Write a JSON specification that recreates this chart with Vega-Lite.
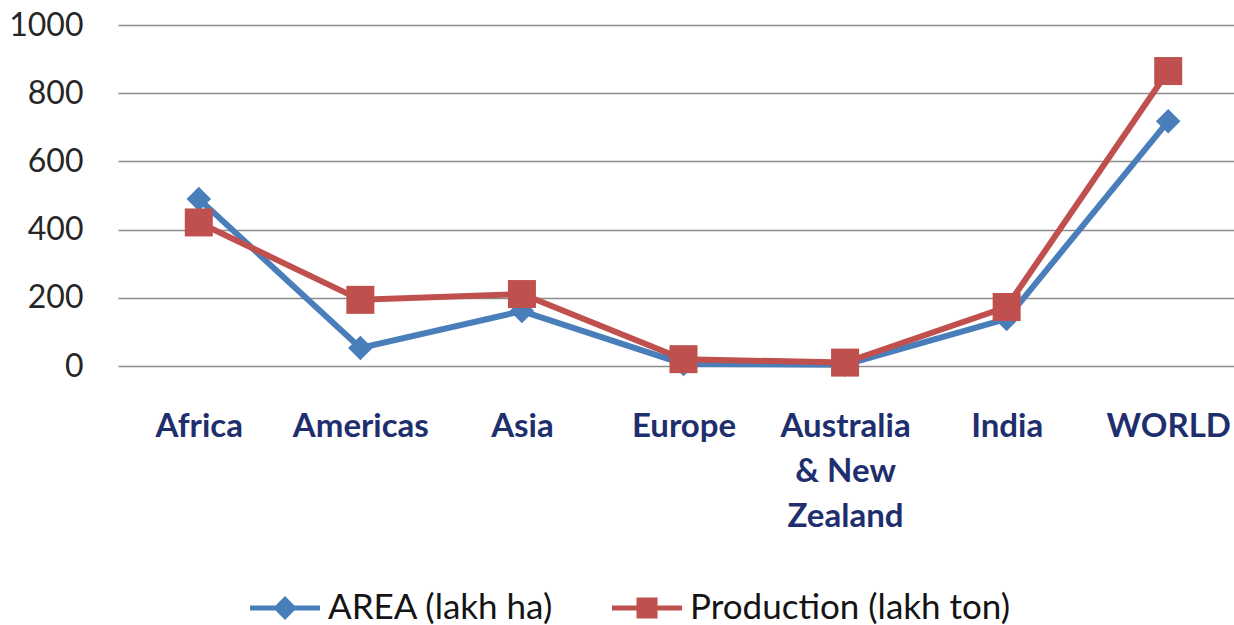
{
  "$schema": "https://vega.github.io/schema/vega-lite/v6.json",
  "width": 1131,
  "height": 341,
  "autosize": {"type": "none"},
  "padding": {"left": 118, "top": 25, "right": 0, "bottom": 259},
  "background": "white",
  "config": {
    "font": "Lato",
    "view": {"stroke": null}
  },
  "data": {
    "values": [
      {"region": "Africa", "series": "AREA (lakh ha)", "value": 490},
      {"region": "Americas", "series": "AREA (lakh ha)", "value": 53},
      {"region": "Asia", "series": "AREA (lakh ha)", "value": 161},
      {"region": "Europe", "series": "AREA (lakh ha)", "value": 6},
      {"region": "Australia & New Zealand", "series": "AREA (lakh ha)", "value": 4},
      {"region": "India", "series": "AREA (lakh ha)", "value": 138},
      {"region": "WORLD", "series": "AREA (lakh ha)", "value": 718},
      {"region": "Africa", "series": "Production (lakh ton)", "value": 421},
      {"region": "Americas", "series": "Production (lakh ton)", "value": 194},
      {"region": "Asia", "series": "Production (lakh ton)", "value": 211},
      {"region": "Europe", "series": "Production (lakh ton)", "value": 20},
      {"region": "Australia & New Zealand", "series": "Production (lakh ton)", "value": 10},
      {"region": "India", "series": "Production (lakh ton)", "value": 173},
      {"region": "WORLD", "series": "Production (lakh ton)", "value": 865}
    ]
  },
  "encoding": {
    "x": {
      "field": "region",
      "type": "nominal",
      "sort": null,
      "scale": {"type": "point", "padding": 0.5},
      "axis": {
        "title": null,
        "labelAngle": 0,
        "domain": false,
        "ticks": false,
        "labelFont": "Lato",
        "labelFontSize": 33,
        "labelFontWeight": "bold",
        "labelColor": "#1f2f6e",
        "labelPadding": 44,
        "labelBaseline": "top",
        "labelLineHeight": 45,
        "labelExpr": "datum.value == 'Australia & New Zealand' ? ['Australia', '& New', 'Zealand'] : datum.value"
      }
    },
    "y": {
      "field": "value",
      "type": "quantitative",
      "scale": {"domain": [0, 1000], "nice": false},
      "axis": {
        "title": null,
        "values": [0, 200, 400, 600, 800, 1000],
        "format": "d",
        "domain": false,
        "ticks": false,
        "grid": true,
        "gridColor": "#8c8c8c",
        "gridWidth": 1.5,
        "labelFont": "Lato",
        "labelFontSize": 32,
        "labelColor": "#262626",
        "labelPadding": 35
      }
    },
    "color": {
      "field": "series",
      "type": "nominal",
      "scale": {"domain": ["AREA (lakh ha)", "Production (lakh ton)"], "range": ["#4a7ebb", "#c0504d"]},
      "legend": {
        "title": null,
        "orient": "none",
        "direction": "horizontal",
        "legendX": 132,
        "legendY": 548,
        "symbolSize": 4900,
        "symbolStrokeWidth": 0,
        "symbolOpacity": 1,
        "labelFont": "Lato",
        "labelFontSize": 35,
        "labelColor": "#141414",
        "labelOffset": 8,
        "labelLimit": 0,
        "columnPadding": 58,
        "encode": {
          "symbols": {
            "update": {
              "shape": {"signal": "datum.value == 'AREA (lakh ha)' ? 'M-1,-0.07H1V0.07H-1Z M0,-0.34L0.34,0L0,0.34L-0.34,0Z' : 'M-1,-0.07H1V0.07H-1Z M-0.3,-0.3H0.3V0.3H-0.3Z'"},
              "fill": {"signal": "datum.value == 'AREA (lakh ha)' ? '#4a7ebb' : '#c0504d'"},
              "strokeWidth": {"value": 0}
            }
          }
        }
      }
    }
  },
  "layer": [
    {
      "mark": {"type": "line", "strokeWidth": 6}
    },
    {
      "transform": [{"filter": "datum.series == 'AREA (lakh ha)'"}],
      "mark": {"type": "point", "filled": true, "opacity": 1, "shape": "diamond", "size": 600}
    },
    {
      "transform": [{"filter": "datum.series == 'Production (lakh ton)'"}],
      "mark": {"type": "point", "filled": true, "opacity": 1, "shape": "square", "size": 784}
    }
  ]
}
